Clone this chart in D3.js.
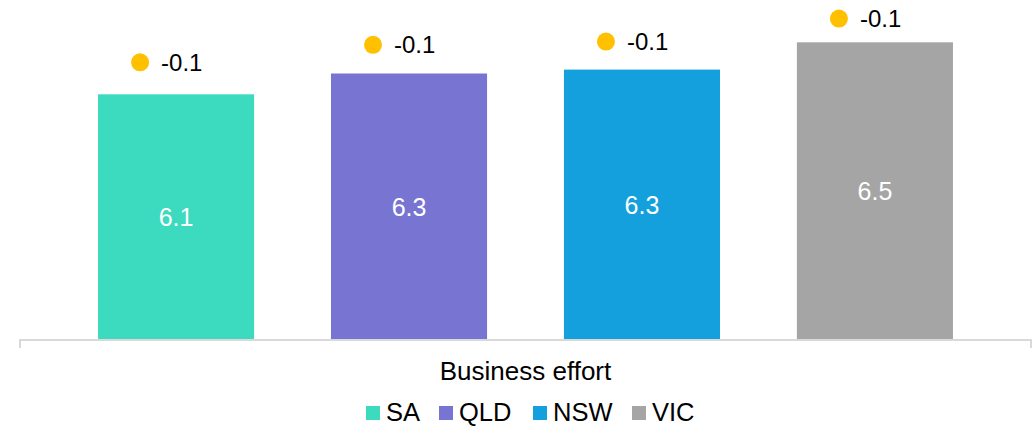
<!DOCTYPE html>
<html>
<head>
<meta charset="utf-8">
<script src="https://cdn.jsdelivr.net/npm/d3@7"></script>
<style>
  html, body { margin: 0; padding: 0; background: #ffffff; }
  svg { display: block; font-family: "Liberation Sans", Arial, sans-serif; }
</style>
</head>
<body>
<svg id="chart" width="1035" height="426"></svg>
<script>
// ---- data ----
const category = "Business effort";
const series = ["SA", "QLD", "NSW", "VIC"];
const barValues = [6.1, 6.26, 6.29, 6.5];
const changeValues = [-0.1, -0.1, -0.1, -0.1];
const colors = ["#3CDBBF", "#7775D1", "#13A0DC", "#A5A5A5"];
const markerColor = "#FFC000";

// ---- layout ----
const svg = d3.select("#chart");
const plot = { left: 20, right: 1031, top: 2, bottom: 340 };

const x = d3.scaleBand()
  .domain(series)
  .range([plot.left, plot.right])
  .paddingInner(0.33)
  .paddingOuter(0.335);

const y = d3.scaleLinear().domain([4.21, 6.81]).range([plot.bottom, plot.bottom - 338]);
// secondary axis used by the change markers
const y2 = d3.scaleLinear().domain([3.56, 6.67]).range([plot.bottom, 0]);

const data = series.map((s, i) => ({ s, v: barValues[i], c: changeValues[i], color: colors[i] }));
const locale = d3.formatLocale({ decimal: ".", thousands: ",", grouping: [3], currency: ["$", ""], minus: "-" });
const fmt = locale.format(".1f");

// bars
svg.append("g").selectAll("rect").data(data).join("rect")
  .attr("x", d => x(d.s))
  .attr("y", d => y(d.v))
  .attr("width", x.bandwidth())
  .attr("height", d => y(y.domain()[0]) - y(d.v))
  .attr("fill", d => d.color);

// bar labels
svg.append("g").selectAll("text").data(data).join("text")
  .attr("x", d => x(d.s) + x.bandwidth() / 2)
  .attr("y", d => (y(d.v) + y(y.domain()[0])) / 2)
  .attr("dy", "0.35em")
  .attr("text-anchor", "middle")
  .attr("fill", "#ffffff")
  .attr("font-size", 25)
  .text(d => fmt(d.v));

// axis line (category axis)
const axisG = svg.append("g").attr("transform", `translate(0,${plot.bottom})`);
axisG.append("path")
  .attr("d", `M${plot.left},8V0H${plot.right}V8`)
  .attr("fill", "none")
  .attr("stroke", "#D9D9D9")
  .attr("stroke-width", 2);

// change markers
const mk = svg.append("g").selectAll("g").data(data).join("g")
  .attr("transform", d => `translate(${x(d.s) + x.bandwidth() / 2},${y2(d.v)})`);
mk.append("circle")
  .attr("cx", -36)
  .attr("r", 9)
  .attr("fill", markerColor);
mk.append("text")
  .attr("x", -15)
  .attr("dy", "0.35em")
  .attr("font-size", 24)
  .attr("fill", "#000000")
  .text(d => fmt(d.c));

// category label
svg.append("text")
  .attr("x", (plot.left + plot.right) / 2)
  .attr("y", 380)
  .attr("text-anchor", "middle")
  .attr("font-size", 26)
  .attr("fill", "#000000")
  .text(category);

// legend
const legendX = [366, 439, 533, 632];
const lg = svg.append("g").selectAll("g").data(data).join("g")
  .attr("transform", (d, i) => `translate(${legendX[i]},0)`);
lg.append("rect")
  .attr("x", 0).attr("y", 406)
  .attr("width", 14).attr("height", 14)
  .attr("fill", d => d.color);
lg.append("text")
  .attr("x", 20).attr("y", 421)
  .attr("font-size", 25.5)
  .attr("fill", "#000000")
  .text(d => d.s);
</script>
</body>
</html>
